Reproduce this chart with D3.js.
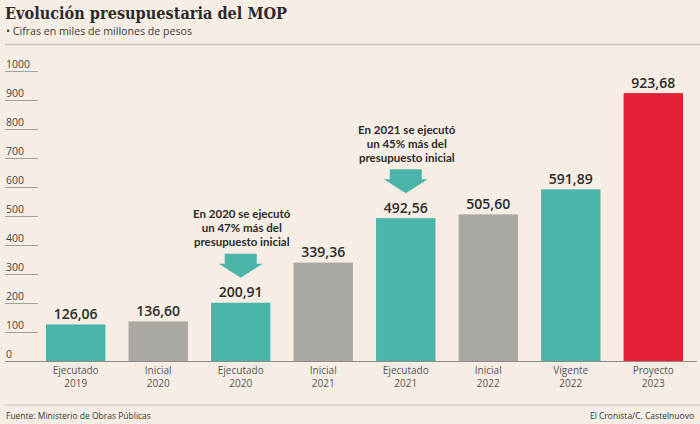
<!DOCTYPE html>
<html><head><meta charset="utf-8">
<script src="https://cdn.jsdelivr.net/npm/d3@7"></script>
<style>
html,body{margin:0;padding:0;background:#f6eee4;}
svg{display:block;}
</style></head>
<body>
<svg id="chart" width="700" height="424"></svg>
<script>
const categories = ["Ejecutado 2019","Inicial 2020","Ejecutado 2020","Inicial 2021","Ejecutado 2021","Inicial 2022","Vigente 2022","Proyecto 2023"];
const values = [126.06, 136.60, 200.91, 339.36, 492.56, 505.60, 591.89, 923.68];
const kinds = ["ejecutado","inicial","ejecutado","inicial","ejecutado","inicial","vigente","proyecto"];
const yTicks = [0,100,200,300,400,500,600,700,800,900,1000];
const notes = [
  {cat:"Ejecutado 2020", lines:["En 2020 se ejecutó","un 47% más del","presupuesto inicial"]},
  {cat:"Ejecutado 2021", lines:["En 2021 se ejecutó","un 45% más del","presupuesto inicial"]}
];
const colors = {ejecutado:"#4bb5ab", inicial:"#aba7a3", vigente:"#4bb5ab", proyecto:"#e41e35"};

const svg = d3.select("#chart");
svg.append("rect").attr("width",700).attr("height",424).attr("fill","#f6eee4");

const x = d3.scaleBand().domain(categories).range([46, 683]).paddingInner(0.28).paddingOuter(0);
const y = d3.scaleLinear().domain([0,1000]).range([361,71]);

// Title
svg.append("text").attr("x",5).attr("y",18.5).text("Evolución presupuestaria del MOP")
  .attr("font-family","DejaVu Serif").attr("font-weight","bold").attr("font-size",17.5)
  .attr("fill","#2a2a2a").attr("textLength",282).attr("lengthAdjust","spacingAndGlyphs");
svg.append("text").attr("x",6).attr("y",34.5).text("• Cifras en miles de millones de pesos")
  .attr("font-family","Open Sans").attr("font-size",10.5).attr("fill","#3a3a3a")
  .attr("textLength",186).attr("lengthAdjust","spacingAndGlyphs");
svg.append("line").attr("x1",5).attr("x2",700).attr("y1",44.5).attr("y2",44.5)
  .attr("stroke","#c9c3bc").attr("stroke-width",1.5);

// Y axis ticks
const yAxis = svg.append("g").attr("class","yaxis");
yTicks.forEach(t => {
  if (t>0) {
    yAxis.append("line").attr("x1",5).attr("x2",38).attr("y1",y(t)+0.5).attr("y2",y(t)+0.5)
      .attr("stroke","#8f8a85").attr("stroke-width",0.8);
  }
  yAxis.append("text").attr("x",6).attr("y",y(t)-3).text(t)
    .attr("font-family","Open Sans").attr("font-size",10.5).attr("fill","#444");
});

// Bars
svg.append("g").selectAll("rect").data(categories).join("rect")
  .attr("x",d=>x(d)).attr("width",x.bandwidth())
  .attr("y",(d,i)=>y(values[i])).attr("height",(d,i)=>y(0)-y(values[i]))
  .attr("fill",(d,i)=>colors[kinds[i]]);

// Baseline
svg.append("line").attr("x1",5).attr("x2",697).attr("y1",361.5).attr("y2",361.5)
  .attr("stroke","#8f8a85").attr("stroke-width",1);

// Value labels
const fmt = v => d3.format(".2f")(v).replace(".",",");
svg.append("g").selectAll("text").data(categories).join("text")
  .attr("x",d=>x(d)+x.bandwidth()/2).attr("y",(d,i)=>y(values[i])-5.5)
  .attr("text-anchor","middle").text((d,i)=>fmt(values[i]))
  .attr("font-family","Open Sans").attr("font-weight",600).attr("font-size",14).attr("fill","#2b2b2b");

// X labels
const xl = svg.append("g");
categories.forEach(c => {
  const parts = c.split(" ");
  const cx = x(c)+x.bandwidth()/2;
  const t = xl.append("text").attr("text-anchor","middle")
    .attr("font-family","Open Sans").attr("font-size",10).attr("fill","#555");
  t.append("tspan").attr("x",cx).attr("y",374).text(parts[0]);
  t.append("tspan").attr("x",cx).attr("y",387).text(parts[1]);
});

// Annotations
notes.forEach(n => {
  const i = categories.indexOf(n.cat);
  const cx = x(n.cat)+x.bandwidth()/2;
  const top = y(values[i]);
  const tip = top - 25;
  const g = svg.append("g");
  const arrow = d3.path();
  arrow.moveTo(cx-16, tip-24); arrow.lineTo(cx+16, tip-24); arrow.lineTo(cx+16, tip-14);
  arrow.lineTo(cx+22, tip-14); arrow.lineTo(cx, tip); arrow.lineTo(cx-22, tip-14);
  arrow.lineTo(cx-16, tip-14); arrow.closePath();
  g.append("path").attr("d",arrow.toString()).attr("fill","#4bb5ab");
  const t = g.append("text").attr("text-anchor","middle")
    .attr("font-family","Lato").attr("font-weight",700).attr("font-size",11.5).attr("fill","#2b2b2b");
  n.lines.forEach((l,k) => {
    t.append("tspan").attr("x",cx+1).attr("y",tip-59.5+k*14).text(l);
  });
});

// Footer
svg.append("line").attr("x1",5).attr("x2",700).attr("y1",405).attr("y2",405)
  .attr("stroke","#d3cdc6").attr("stroke-width",1.5);
svg.append("text").attr("x",6).attr("y",419).text("Fuente: Ministerio de Obras Públicas")
  .attr("font-family","Open Sans").attr("font-size",8.5).attr("fill","#333");
svg.append("text").attr("x",694).attr("y",419).attr("text-anchor","end").text("El Cronista/C. Castelnuovo")
  .attr("font-family","Open Sans").attr("font-size",8.5).attr("fill","#333");
</script>
</body></html>
